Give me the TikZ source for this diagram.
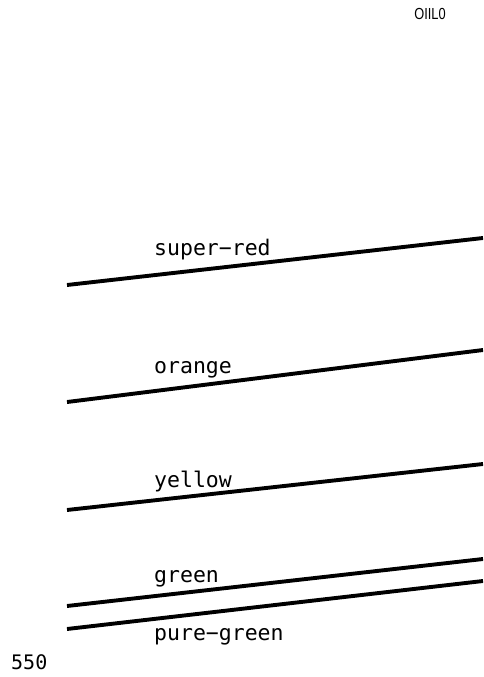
\documentclass[tikz,border=0pt]{standalone}
\usepackage{fontspec}
\newfontfamily\plotfont{DejaVu Sans Mono}
\newfontfamily\tagfont{Liberation Sans}
\usetikzlibrary{positioning}
\newcommand{\dashch}{\char"2212\relax}

\begin{document}
\begin{tikzpicture}[
  x=1pt, y=-1pt,
  level/.style={line width=3.9pt},
  lvlabel/.style={anchor=base west, inner sep=0pt, font=\plotfont\fontsize{21.5}{24}\selectfont},
  corner/.style={anchor=base, inner sep=0pt, font=\tagfont\fontsize{16}{18}\selectfont, xscale=0.8}
]
\useasboundingbox (0,0) rectangle (483,677);
% end points of the level lines
\coordinate (sr-l) at (67,285);  \coordinate (sr-r) at (483,238);
\coordinate (or-l) at (67,402);  \coordinate (or-r) at (483,350);
\coordinate (ye-l) at (67,510);  \coordinate (ye-r) at (483,464);
\coordinate (gr-l) at (67,606);  \coordinate (gr-r) at (483,559);
\coordinate (pg-l) at (67,629);  \coordinate (pg-r) at (483,581);
\draw[level] (sr-l) -- (sr-r);
\draw[level] (or-l) -- (or-r);
\draw[level] (ye-l) -- (ye-r);
\draw[level] (gr-l) -- (gr-r);
\draw[level] (pg-l) -- (pg-r);
\node[lvlabel] (sr) at (154,255) {super\dashch red};
\node[lvlabel] (or) at (154,373) {orange};
\node[lvlabel] (ye) at (154,487) {yellow};
\node[lvlabel] (gr) at (154,582) {green};
\node[lvlabel] (pg) at (154,640) {pure\dashch green};
\node[corner] (tag) at (430,20) {OIIL0};
\node[lvlabel, font=\plotfont\fontsize{20}{22}\selectfont] (val) at (11,669) {550};
\end{tikzpicture}
\end{document}
